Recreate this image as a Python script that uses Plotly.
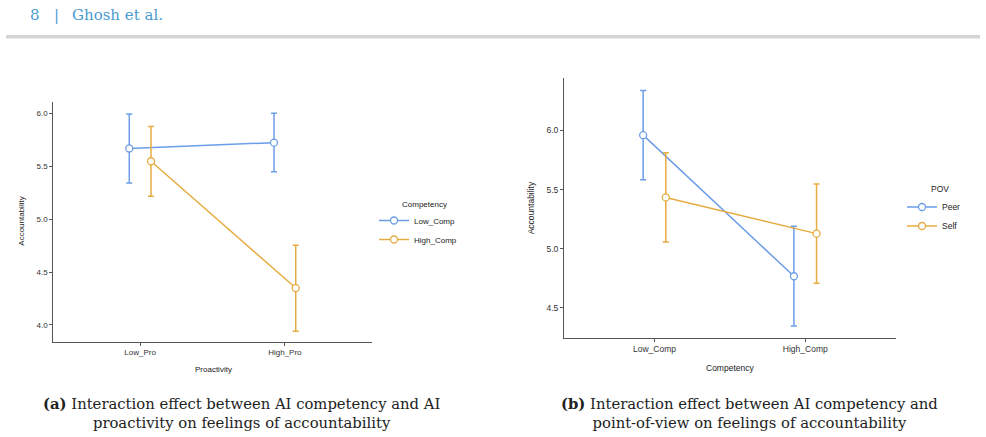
import plotly.graph_objects as go

# ---------------- data ----------------
# Panel (a): Proactivity x Competency
pro_levels = ["Low_Pro", "High_Pro"]
a_low_comp_mean = [5.67, 5.725]
a_low_comp_upper = [5.997, 6.004]
a_low_comp_lower = [5.343, 5.45]
a_high_comp_mean = [5.549, 4.348]
a_high_comp_upper = [5.877, 4.753]
a_high_comp_lower = [5.217, 3.94]

# Panel (b): Competency x POV
comp_levels = ["Low_Comp", "High_Comp"]
b_peer_mean = [5.96, 4.768]
b_peer_upper = [6.338, 5.19]
b_peer_lower = [5.583, 4.348]
b_self_mean = [5.434, 5.128]
b_self_upper = [5.811, 5.547]
b_self_lower = [5.057, 4.709]

BLUE = "#6B9DE8"
ORANGE = "#E6AC40"
DODGE = 0.075
W, H = 986, 437
FONT = "Liberation Sans"
AXC = "#555555"


def px_x(v):
    return v / W


def px_y(v):
    return (H - v) / H


def series(levels, mean, upper, lower, offset, name, color, xaxis, yaxis, legend):
    xs = [i + offset for i in range(len(levels))]
    return go.Scatter(
        x=xs, y=mean, mode="lines+markers", name=name,
        line=dict(color=color, width=1.5),
        marker=dict(symbol="circle", size=7, color="white",
                    line=dict(color=color, width=1.3)),
        error_y=dict(type="data", symmetric=False,
                     array=[u - m for u, m in zip(upper, mean)],
                     arrayminus=[m - l for m, l in zip(mean, lower)],
                     color=color, thickness=1.5, width=3),
        xaxis=xaxis, yaxis=yaxis, legend=legend, showlegend=True,
    )


fig = go.Figure()
fig.add_trace(series(pro_levels, a_low_comp_mean, a_low_comp_upper, a_low_comp_lower,
                     -DODGE, "Low_Comp", BLUE, "x", "y", "legend"))
fig.add_trace(series(pro_levels, a_high_comp_mean, a_high_comp_upper, a_high_comp_lower,
                     DODGE, "High_Comp", ORANGE, "x", "y", "legend"))
fig.add_trace(series(comp_levels, b_peer_mean, b_peer_upper, b_peer_lower,
                     -DODGE, "Peer", BLUE, "x2", "y2", "legend2"))
fig.add_trace(series(comp_levels, b_self_mean, b_self_upper, b_self_lower,
                     DODGE, "Self", ORANGE, "x2", "y2", "legend2"))

axis_common = dict(showline=True, linecolor=AXC, linewidth=1, showgrid=False,
                   zeroline=False, ticks="outside", tickcolor=AXC, ticklen=3,
                   tickwidth=1, mirror=False)

fig.update_layout(
    width=W, height=H, margin=dict(l=0, r=0, t=0, b=0),
    paper_bgcolor="white", plot_bgcolor="white",
    font=dict(family=FONT, color="#333333"),
    xaxis=dict(domain=[px_x(53.3), px_x(371.7)], range=[-0.6, 1.6],
               tickvals=[0, 1], ticktext=pro_levels, anchor="y",
               tickfont=dict(size=8), **axis_common),
    yaxis=dict(domain=[px_y(341.7), px_y(102)], range=[3.84, 6.11],
               tickvals=[4.0, 4.5, 5.0, 5.5, 6.0], tickformat=".1f", anchor="x",
               tickfont=dict(size=8), **axis_common),
    xaxis2=dict(domain=[px_x(564), px_x(895.7)], range=[-0.6, 1.6],
                tickvals=[0, 1], ticktext=comp_levels, anchor="y2",
                tickfont=dict(size=8.5), **axis_common),
    yaxis2=dict(domain=[px_y(337.7), px_y(78.3)], range=[4.249, 6.44],
                tickvals=[4.5, 5.0, 5.5, 6.0], tickformat=".1f", anchor="x2",
                tickfont=dict(size=8.5), **axis_common),
    legend=dict(x=px_x(374), y=px_y(206), xanchor="left", yanchor="top",
                font=dict(size=8, color="#222"), itemwidth=30,
                bgcolor="rgba(0,0,0,0)", tracegroupgap=0),
    legend2=dict(x=px_x(902), y=px_y(192.5), xanchor="left", yanchor="top",
                 font=dict(size=8.5, color="#222"), itemwidth=30,
                 bgcolor="rgba(0,0,0,0)", tracegroupgap=0),
)

annotations = [
    # header
    dict(text="8", x=px_x(28), y=px_y(15)),
    dict(text="|", x=px_x(52), y=px_y(15)),
    dict(text="Ghosh et al.", x=px_x(70), y=px_y(15)),
]
for a in annotations:
    a.update(xref="paper", yref="paper", xanchor="left", yanchor="middle",
             showarrow=False, font=dict(family="DejaVu Serif", size=15, color="#4a9bd1"))

axis_titles = [
    dict(text="Accountability", x=px_x(22), y=px_y(221.7), textangle=-90, size=8),
    dict(text="Proactivity", x=px_x(213), y=px_y(369.3), textangle=0, size=8),
    dict(text="Accountability", x=px_x(531), y=px_y(208.3), textangle=-90, size=8.5),
    dict(text="Competency", x=px_x(730), y=px_y(368.3), textangle=0, size=8.5),
]
for t in axis_titles:
    annotations.append(dict(text=t["text"], x=t["x"], y=t["y"], textangle=t["textangle"],
                            xref="paper", yref="paper", xanchor="center", yanchor="middle",
                            showarrow=False, font=dict(family=FONT, size=t["size"], color="#222")))

legend_titles = [
    dict(text="Competency", x=px_x(400), y=px_y(204.7), size=8),
    dict(text="POV", x=px_x(929), y=px_y(189), size=8.5),
]
for t in legend_titles:
    annotations.append(dict(text=t["text"], x=t["x"], y=t["y"], xref="paper", yref="paper",
                            xanchor="left", yanchor="middle", showarrow=False,
                            font=dict(family=FONT, size=t["size"], color="#222")))

captions = [
    dict(text="<b>(a)</b> Interaction effect between AI competency and AI<br>"
              "proactivity on feelings of accountability", x=px_x(241.5)),
    dict(text="<b>(b)</b> Interaction effect between AI competency and<br>"
              "point-of-view on feelings of accountability", x=px_x(749.5)),
]
for c in captions:
    annotations.append(dict(text=c["text"], x=c["x"], y=px_y(412.5), xref="paper", yref="paper",
                            xanchor="center", yanchor="middle", align="center", showarrow=False,
                            font=dict(family="DejaVu Serif", size=14.8, color="#222")))

fig.update_layout(annotations=annotations)

fig.add_shape(type="rect", xref="paper", yref="paper",
              x0=px_x(6), x1=px_x(980), y0=px_y(38.5), y1=px_y(35),
              fillcolor="#d4d4d4", line=dict(width=0), layer="below")

fig.write_html("out.html")
